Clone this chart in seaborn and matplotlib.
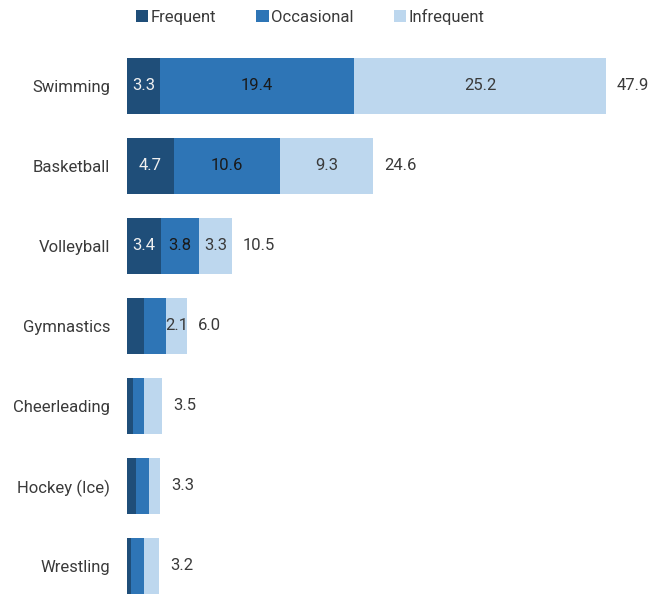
import matplotlib
matplotlib.use("Agg")
import matplotlib.pyplot as plt
import seaborn as sns
import numpy as np
import pandas as pd
from matplotlib.patches import Patch

sports = ["Swimming", "Basketball", "Volleyball", "Gymnastics", "Cheerleading", "Hockey (Ice)", "Wrestling"]
frequent = [3.3, 4.7, 3.4, 1.7, 0.6, 0.9, 0.4]
occasional = [19.4, 10.6, 3.8, 2.2, 1.1, 1.3, 1.3]
infrequent = [25.2, 9.3, 3.3, 2.1, 1.8, 1.1, 1.5]
totals = [47.9, 24.6, 10.5, 6.0, 3.5, 3.3, 3.2]
series_names = ["Frequent", "Occasional", "Infrequent"]
colors = ["#1f4e79", "#2e75b6", "#bdd7ee"]
# which in-bar labels are shown
show_freq = [True, True, True, False, False, False, False]
show_occ = [True, True, True, False, False, False, False]
show_inf = [True, True, True, True, False, False, False]

sns.set_theme(style="white")
plt.rcParams["font.family"] = ["Roboto", "DejaVu Sans"]

FS = 12
TXT = "#3a3a3a"

fig = plt.figure(figsize=(6.68, 5.95), dpi=100)
W, H = 668, 595
ax = fig.add_axes([127 / W, 0, (W - 127) / W, 1 - 46 / H])

df = pd.DataFrame({"sport": sports, "f": frequent, "o": occasional, "i": infrequent})
df["c1"] = df["f"]
df["c2"] = df["f"] + df["o"]
df["c3"] = df["f"] + df["o"] + df["i"]

for col, colr in zip(["c3", "c2", "c1"], colors[::-1]):
    sns.barplot(data=df, y="sport", x=col, color=colr, orient="h", width=0.7,
                saturation=1, ax=ax, linewidth=0)

ax.set_xlim(0, (W - 127) / 10)
ax.set_ylim(6.3625, -0.5)
ax.set_xlabel("")
ax.set_ylabel("")
ax.set_xticks([])
for s in ax.spines.values():
    s.set_visible(False)
ax.tick_params(axis="y", length=0, pad=12, labelsize=FS, labelcolor=TXT)

for idx in range(len(sports)):
    f, o, i = frequent[idx], occasional[idx], infrequent[idx]
    if show_freq[idx]:
        ax.text(f / 2, idx, f"{f:.1f}", ha="center", va="center", color="#f0f0f0", fontsize=FS)
    if show_occ[idx]:
        ax.text(f + o / 2, idx, f"{o:.1f}", ha="center", va="center", color="#1a1a1a", fontsize=FS)
    if show_inf[idx]:
        ax.text(f + o + i / 2, idx, f"{i:.1f}", ha="center", va="center", color=TXT, fontsize=FS)
    ax.text(f + o + i + 1.1, idx, f"{totals[idx]:.1f}", ha="left", va="center", color=TXT, fontsize=FS)

handles = [Patch(facecolor=c, edgecolor="none") for c in colors]
leg = fig.legend(handles, series_names, loc="center", bbox_to_anchor=(310 / W, 1 - 17 / H), ncol=3,
                 frameon=False, handlelength=0.75, handleheight=0.75, handletextpad=0.15,
                 columnspacing=2.4, prop={"size": FS})
for t in leg.get_texts():
    t.set_color(TXT)

fig.savefig("out.png", dpi=100)
